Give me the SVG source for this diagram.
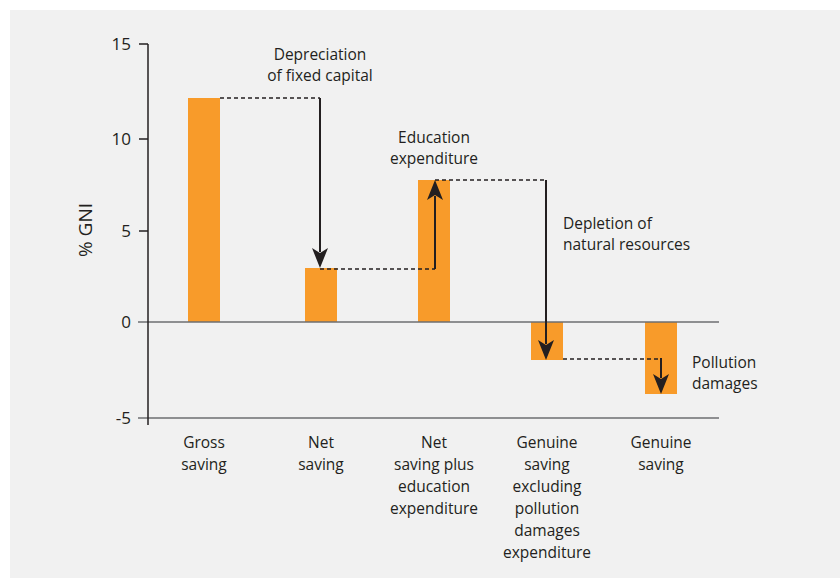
<svg xmlns="http://www.w3.org/2000/svg" width="840" height="578" viewBox="0 0 840 578">
<defs>
<style>
text{font-family:"Open Sans","Liberation Sans",sans-serif;fill:#231f20}
.lbl{font-size:15.5px}
.tick{font-size:17px;text-anchor:end}
.cat{font-size:15.5px;text-anchor:middle}
.bar{fill:#f89b2a}
.grid{stroke:#6d6e71;stroke-width:1.3}
.axis{stroke:#231f20;stroke-width:1.5;fill:none}
.dash{stroke:#231f20;stroke-width:1.5;stroke-dasharray:4,3;fill:none}
.arr{stroke:#231f20;stroke-width:2;fill:none}
.head{fill:#231f20}
</style>
</defs>
<rect x="0" y="0" width="840" height="578" fill="#ffffff"/>
<rect x="10" y="10" width="830" height="568" fill="#f1f1f1"/>
<g id="bars">
<rect class="bar" x="188" y="98" width="32" height="224"/>
<rect class="bar" x="305" y="268" width="32" height="54"/>
<rect class="bar" x="418" y="180" width="32" height="142"/>
<rect class="bar" x="531" y="322" width="32" height="38"/>
<rect class="bar" x="645" y="322" width="32" height="72"/>
</g>
<g id="axes">
<line class="grid" x1="138" y1="322" x2="719" y2="322"/>
<line class="grid" x1="138" y1="418" x2="719" y2="418"/>
<line class="axis" x1="148" y1="44" x2="148" y2="425"/>
<line class="axis" x1="139" y1="44" x2="148" y2="44"/>
<line class="axis" x1="139" y1="139" x2="148" y2="139"/>
<line class="axis" x1="139" y1="231" x2="148" y2="231"/>
<text class="tick" x="131" y="50">15</text>
<text class="tick" x="131" y="145">10</text>
<text class="tick" x="131" y="237">5</text>
<text class="tick" x="131" y="328">0</text>
<text class="tick" x="131" y="424">-5</text>
<text transform="translate(92,230) rotate(-90)" style="font-size:19px;text-anchor:middle">% GNI</text>
</g>
<g id="connectors">
<line class="dash" x1="220" y1="98" x2="320" y2="98"/>
<line class="arr" x1="320" y1="98" x2="320" y2="252"/>
<path class="head" d="M312,248 L320,268 L328,248 L320,253 Z"/>
<line class="dash" x1="320" y1="269" x2="435" y2="269"/>
<line class="arr" x1="435" y1="269" x2="435" y2="196"/>
<path class="head" d="M427,200 L435,180 L443,200 L435,195 Z"/>
<line class="dash" x1="435" y1="180" x2="546" y2="180"/>
<line class="arr" x1="546" y1="180" x2="546" y2="344"/>
<path class="head" d="M538,340 L546,360 L554,340 L546,345 Z"/>
<line class="dash" x1="563" y1="359" x2="661" y2="359"/>
<line class="arr" x1="661" y1="358" x2="661" y2="378"/>
<path class="head" d="M653,374 L661,394 L669,374 L661,379 Z"/>
</g>
<g id="annotations">
<text class="lbl" x="320" y="60" text-anchor="middle">Depreciation</text>
<text class="lbl" x="320" y="81" text-anchor="middle">of fixed capital</text>
<text class="lbl" x="434" y="143" text-anchor="middle">Education</text>
<text class="lbl" x="434" y="164" text-anchor="middle">expenditure</text>
<text class="lbl" x="563" y="229">Depletion of</text>
<text class="lbl" x="563" y="250">natural resources</text>
<text class="lbl" x="692" y="368">Pollution</text>
<text class="lbl" x="692" y="389">damages</text>
</g>
<g id="categories">
<text class="cat" x="204" y="448">Gross</text>
<text class="cat" x="204" y="470">saving</text>
<text class="cat" x="321" y="448">Net</text>
<text class="cat" x="321" y="470">saving</text>
<text class="cat" x="434" y="448">Net</text>
<text class="cat" x="434" y="470">saving plus</text>
<text class="cat" x="434" y="492">education</text>
<text class="cat" x="434" y="514">expenditure</text>
<text class="cat" x="547" y="448">Genuine</text>
<text class="cat" x="547" y="470">saving</text>
<text class="cat" x="547" y="492">excluding</text>
<text class="cat" x="547" y="514">pollution</text>
<text class="cat" x="547" y="536">damages</text>
<text class="cat" x="547" y="558">expenditure</text>
<text class="cat" x="661" y="448">Genuine</text>
<text class="cat" x="661" y="470">saving</text>
</g>
</svg>
